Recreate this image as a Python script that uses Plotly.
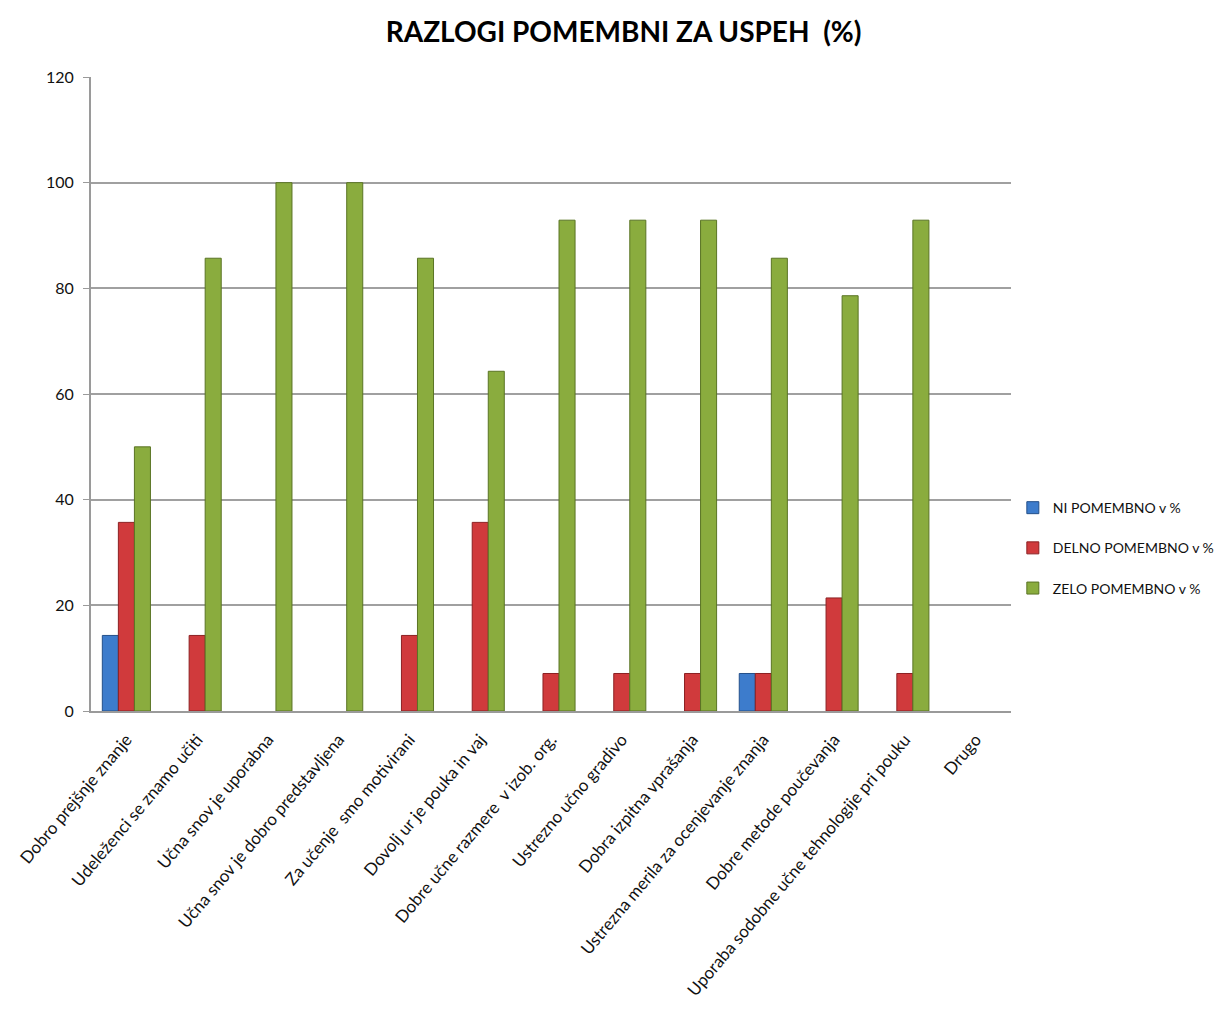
import plotly.graph_objects as go

categories = [
    "Dobro prejšnje znanje",
    "Udeleženci se znamo učiti",
    "Učna snov je uporabna",
    "Učna snov je dobro predstavljena",
    "Za učenje  smo motivirani",
    "Dovolj ur je pouka in vaj",
    "Dobre učne razmere  v izob. org.",
    "Ustrezno učno gradivo",
    "Dobra izpitna vprašanja",
    "Ustrezna merila za ocenjevanje znanja",
    "Dobre metode poučevanja",
    "Uporaba sodobne učne tehnologije pri pouku",
    "Drugo",
]
ni_pomembno = [14.3, 0, 0, 0, 0, 0, 0, 0, 0, 7.1, 0, 0, 0]
delno_pomembno = [35.7, 14.3, 0, 0, 14.3, 35.7, 7.1, 7.1, 7.1, 7.1, 21.4, 7.1, 0]
zelo_pomembno = [50, 85.7, 100, 100, 85.7, 64.3, 92.9, 92.9, 92.9, 85.7, 78.6, 92.9, 0]

series = [
    ("NI POMEMBNO v %", ni_pomembno, "#3d7ccc", "#24508a"),
    ("DELNO POMEMBNO v %", delno_pomembno, "#d03a3c", "#8c2022"),
    ("ZELO POMEMBNO v %", zelo_pomembno, "#8aac3e", "#5a7424"),
]

fig = go.Figure()
for i, (name, vals, col, line) in enumerate(series):
    fig.add_trace(go.Bar(
        x=categories, y=[v if v != 0 else None for v in vals], name=name,
        marker=dict(color=col, line=dict(color=line, width=1)),
        legendgroup=str(i),
    ))

font = "Lato, 'Noto Sans', sans-serif"
fig.update_layout(
    width=1219, height=1004,
    paper_bgcolor="white", plot_bgcolor="white",
    margin=dict(l=83, r=216, t=69, b=301, autoexpand=False),
    barmode="group", bargap=0.32, bargroupgap=0,
    title=dict(text="<b>RAZLOGI POMEMBNI ZA USPEH  (%)</b>", x=0.505, xanchor="center",
               y=0.976, yanchor="middle",
               font=dict(family=font, size=28, color="black")),
    font=dict(family=font, size=15, color="#111111"),
    legend=dict(x=1.002, xanchor="left", y=0.257, yanchor="middle",
                font=dict(family=font, size=14, color="#111111"),
                tracegroupgap=19, bgcolor="rgba(0,0,0,0)"),
    showlegend=True,
)
fig.update_xaxes(tickangle=-50, showline=True, linecolor="#9a9a9a", linewidth=2,
                 ticks="", automargin=False, ticklabelstandoff=10,
                 tickfont=dict(family=font, size=17, color="#111111"))
fig.update_yaxes(range=[0, 120], dtick=20, showgrid=True, gridcolor="#a0a0a0", gridwidth=1.5,
                 showline=True, linecolor="#9a9a9a", linewidth=2, automargin=False,
                 ticks="outside", ticklen=6, tickcolor="#9a9a9a", ticklabelstandoff=6,
                 tickfont=dict(family=font, size=16, color="#111111"), zeroline=False)

fig.write_html("out.html")
